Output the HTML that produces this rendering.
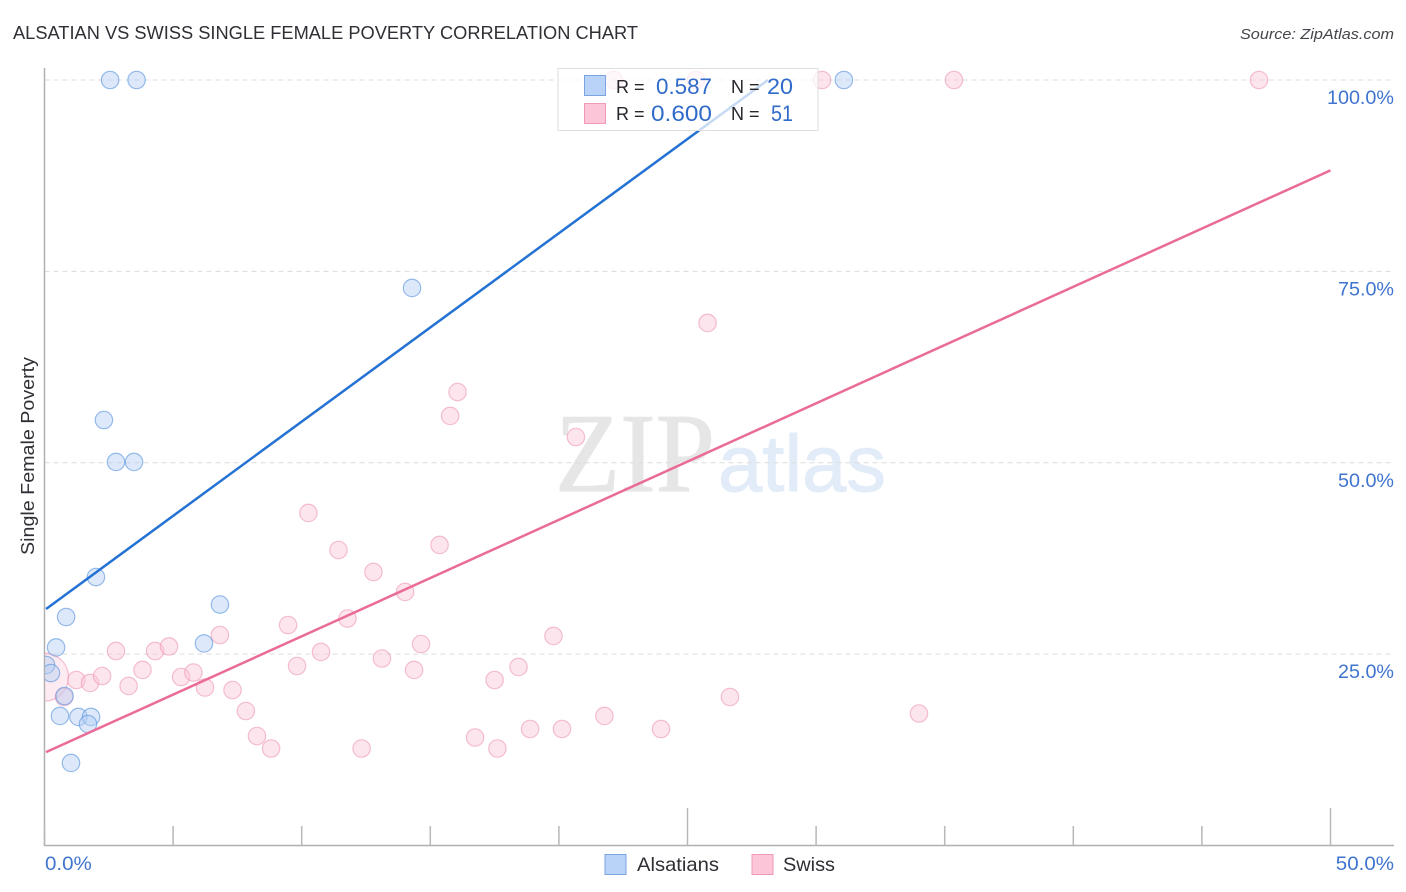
<!DOCTYPE html>
<html lang="en">
<head>
<meta charset="utf-8">
<title>Alsatian vs Swiss Single Female Poverty Correlation Chart</title>
<style>
html,body{margin:0;padding:0;background:#fff;width:1406px;height:892px;overflow:hidden}
svg{display:block}
text{font-family:"Liberation Sans",sans-serif}
</style>
</head>
<body>
<svg id="chart" width="1406" height="892" viewBox="0 0 1406 892" xmlns="http://www.w3.org/2000/svg">
  <defs>
    <clipPath id="plot-clip"><rect x="45" y="60" width="1349" height="786"/></clipPath>
  </defs>
  <text x="13" y="39" font-size="18" fill="#2f2f35" textLength="625" lengthAdjust="spacingAndGlyphs">ALSATIAN VS SWISS SINGLE FEMALE POVERTY CORRELATION CHART</text>
  <text x="1394" y="39" font-size="15" font-style="italic" fill="#44444c" text-anchor="end" textLength="154" lengthAdjust="spacingAndGlyphs">Source: ZipAtlas.com</text>

  <g>
    <text x="555" y="491" font-size="112" fill="#e6e6e6" stroke="#e6e6e6" stroke-width="1" textLength="160" lengthAdjust="spacingAndGlyphs" style="font-family:'Liberation Serif',serif">ZIP</text>
    <text x="718" y="491" font-size="80" fill="#e2ecf9" stroke="#e2ecf9" stroke-width="1" textLength="168" lengthAdjust="spacingAndGlyphs">atlas</text>
  </g>

  <g id="grid"></g>
  <g id="axes"></g>
  <g id="points" clip-path="url(#plot-clip)"></g>
  <g id="trends"></g>
  <g id="ylabels"></g>
  <g id="xlabels"></g>

  <text transform="translate(34 456) rotate(-90)" font-size="18.5" fill="#2f2f35" text-anchor="middle" textLength="198" lengthAdjust="spacingAndGlyphs">Single Female Poverty</text>

  <g>
    <rect x="558" y="68.500" width="260" height="62" fill="#ffffff" fill-opacity="0.74" stroke="#dedede" stroke-width="1"/>
    <rect x="584.500" y="75.500" width="21" height="20" fill="#b8d3f7" stroke="#7aa5e0"/>
    <rect x="584.500" y="103.500" width="21" height="20" fill="#fcc6d8" stroke="#f09ab5"/>
    <text x="616" y="93" font-size="18" fill="#26262c">R =</text>
    <text x="656" y="94" font-size="22" fill="#2f6bc9" textLength="56" lengthAdjust="spacingAndGlyphs">0.587</text>
    <text x="731" y="93" font-size="18" fill="#26262c">N =</text>
    <text x="767" y="94" font-size="22" fill="#2f6bc9" textLength="26" lengthAdjust="spacingAndGlyphs">20</text>
    <text x="616" y="120" font-size="18" fill="#26262c">R =</text>
    <text x="651" y="121" font-size="22" fill="#2f6bc9" textLength="61" lengthAdjust="spacingAndGlyphs">0.600</text>
    <text x="731" y="120" font-size="18" fill="#26262c">N =</text>
    <text x="771" y="121" font-size="22" fill="#2f6bc9" textLength="22" lengthAdjust="spacingAndGlyphs">51</text>
  </g>

  <g>
    <g>
      <rect x="605" y="854.500" width="21" height="20" fill="#b8d3f7" stroke="#7aa5e0"/>
      <text x="637" y="871" font-size="19.500" fill="#2f2f35" textLength="82" lengthAdjust="spacingAndGlyphs">Alsatians</text>
    </g>
    <g>
      <rect x="752" y="854.500" width="21" height="20" fill="#fcc6d8" stroke="#f09ab5"/>
      <text x="783" y="871" font-size="19.500" fill="#2f2f35" textLength="52" lengthAdjust="spacingAndGlyphs">Swiss</text>
    </g>
  </g>
</svg>
<script>
var alsatianX = [2.55,3.58,31.08,14.29,2.31,2.78,3.48,2.00,0.84,6.82,6.20,0.45,0.06,0.25,0.78,0.60,1.32,1.81,1.69,1.03];
var alsatianY = [100,100,100,72.83,55.58,50.1,50.1,35.07,29.85,31.48,26.39,25.87,23.58,22.53,19.53,16.92,16.79,16.79,15.87,10.78];
var swissX = [22.14,25.33,30.23,35.36,47.22,25.78,16.06,15.77,20.66,10.26,11.43,15.36,12.79,14.02,11.78,9.47,6.82,19.79,14.64,2.78,4.30,4.84,10.75,13.12,9.82,3.81,14.37,18.43,5.31,5.79,1.24,1.77,2.24,3.27,6.24,7.31,17.50,26.65,0.76,7.83,34.00,21.77,18.88,20.12,23.97,16.74,8.26,8.81,12.33,17.61];
var swissY = [100,100,100,100,100,68.26,59.24,56.11,53.36,43.44,38.6,39.26,35.73,33.12,29.65,28.8,27.5,27.37,26.32,25.41,25.41,26.0,25.28,24.43,23.45,22.93,22.93,23.32,22.01,22.6,21.62,21.23,22.14,20.84,20.64,20.31,21.62,19.4,19.4,17.57,17.24,16.92,15.22,15.22,15.22,14.11,14.3,12.67,12.67,12.67];
var swissLargeX = [0];
var swissLargeY = [22];
var alsatianTrendX = [0.06,28.13];
var alsatianTrendY = [30.9,100];
var swissTrendX = [0.06,50];
var swissTrendY = [12.2,88.2];
var yTicks = [25,50,75,100];
var yTickLabels = ['25.0%','50.0%','75.0%','100.0%'];
var xTicks = [0,5,10,15,20,25,30,35,40,45,50];
var xEndTicks = [0,50];
var xEndLabels = ['0.0%','50.0%'];

var NS = 'http://www.w3.org/2000/svg';
function sx(v){ return 44.5 + v * 25.72; }
function sy(v){ return 845.5 - v * 7.655; }
function make(tag, attrs, parent){
  var el = document.createElementNS(NS, tag);
  for (var k in attrs) el.setAttribute(k, attrs[k]);
  parent.appendChild(el);
  return el;
}
function widen(el, factor){
  el.setAttribute('textLength', el.getComputedTextLength() * factor);
  el.setAttribute('lengthAdjust', 'spacingAndGlyphs');
}
var grid = document.getElementById('grid');
var axes = document.getElementById('axes');
var points = document.getElementById('points');
var trends = document.getElementById('trends');
var ylabels = document.getElementById('ylabels');
var xlabels = document.getElementById('xlabels');

yTicks.forEach(function(t){
  var el = make('line', {x1:44.5, x2:1394, y1:sy(t), y2:sy(t), stroke:'#dcdcdc', 'stroke-width':1, 'stroke-dasharray':'5 4'}, grid);
  
  
});

var yAxis = make('line', {x1:44.5, x2:44.5, y1:68, y2:846, stroke:'#b0b0b0', 'stroke-width':1.5}, axes);


var xAxis = make('line', {x1:44, x2:1394, y1:845.5, y2:845.5, stroke:'#b0b0b0', 'stroke-width':1.5}, axes);



xTicks.forEach(function(t){
  var tall = (t % 25 === 0 && t !== 0);
  var el = make('line', {x1:sx(t), x2:sx(t), y1:tall ? 808 : 826, y2:845.5, stroke:'#b8b8b8', 'stroke-width':1.5}, axes);
  
  
});

function drawPoints(xs, ys, r, fill, stroke, name){
  xs.forEach(function(x, i){
    var c = make('circle', {cx:sx(x), cy:sy(ys[i]), r:r, fill:fill, 'fill-opacity':0.45, stroke:stroke, 'stroke-opacity':0.62, 'stroke-width':1.2}, points);
    
    
  });
}
drawPoints(swissLargeX, swissLargeY, 24, '#fbd3e0', '#ee9ab6', 'swiss-point-large');
drawPoints(swissX, swissY, 8.7, '#fbc6d8', '#ee9ab6', 'swiss-point');
drawPoints(alsatianX, alsatianY, 8.7, '#b3cff5', '#5b94dd', 'alsatian-point');

var blueTrend = make('line', {x1:sx(alsatianTrendX[0]), y1:sy(alsatianTrendY[0]), x2:sx(alsatianTrendX[1]), y2:sy(alsatianTrendY[1]), stroke:'#2472d3', 'stroke-width':2.5}, trends);


var pinkTrend = make('line', {x1:sx(swissTrendX[0]), y1:sy(swissTrendY[0]), x2:sx(swissTrendX[1]), y2:sy(swissTrendY[1]), stroke:'#ea6b96', 'stroke-width':2.5}, trends);



yTicks.forEach(function(t, i){
  var el = make('text', {x:1394, y:sy(t) + 24, 'font-size':19, fill:'#3f74cf', 'text-anchor':'end'}, ylabels);
  el.textContent = yTickLabels[i];
  
  
  widen(el, 1.04);
});

xEndTicks.forEach(function(t, i){
  var el = make('text', {x: i === 0 ? 45 : 1394, y:870, 'font-size':19, fill:'#3f74cf', 'text-anchor': i === 0 ? 'start' : 'end'}, xlabels);
  el.textContent = xEndLabels[i];
  
  
  widen(el, 1.08);
});
</script>
</body>
</html>
